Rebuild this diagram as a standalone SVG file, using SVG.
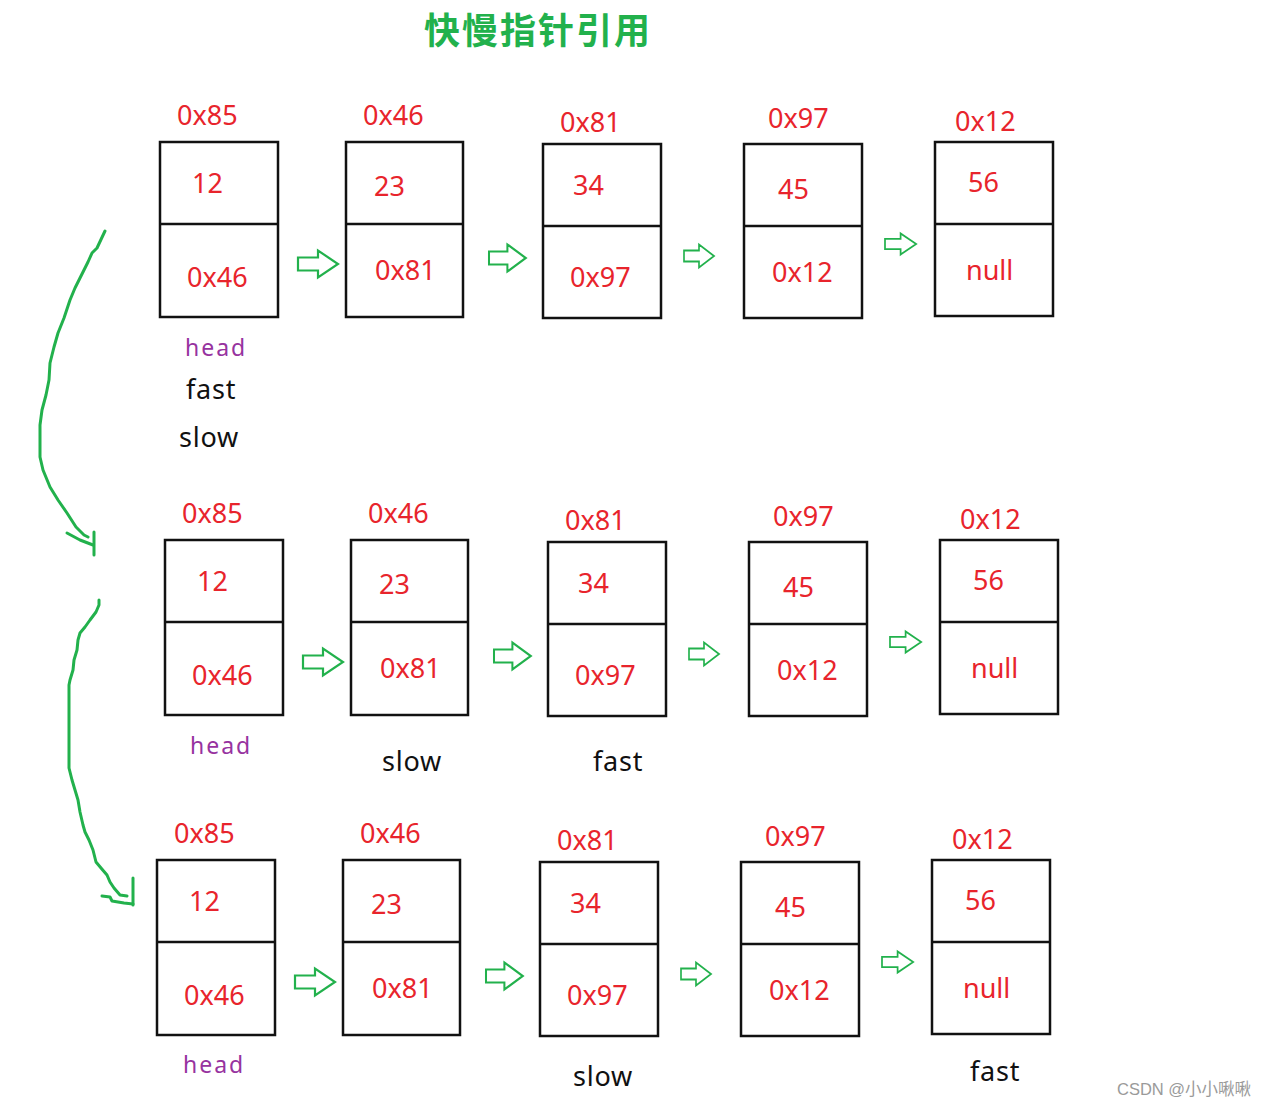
<svg xmlns="http://www.w3.org/2000/svg" xmlns:xlink="http://www.w3.org/1999/xlink" width="1269" height="1107" viewBox="0 0 1269 1107">
<style>
.box{fill:none;stroke:#111;stroke-width:2.5}
.red{font-family:"Noto Sans","Liberation Sans",sans-serif;font-size:27px;fill:#e8242c}
.head{font-family:"Noto Sans","Liberation Sans",sans-serif;font-size:23px;fill:#97339f;letter-spacing:2px}
.lbl{font-family:"Noto Sans","Liberation Sans",sans-serif;font-size:27px;fill:#111;letter-spacing:0.8px}
.arw{fill:#fff;stroke:#22b14c;stroke-width:2.2;vector-effect:non-scaling-stroke;stroke-linejoin:miter}
.curve{fill:none;stroke:#22b14c;stroke-width:3;stroke-linejoin:round;stroke-linecap:round}
</style>
<defs>
<path id="arrow" d="M0,-6.5 H20 V-13.5 L40,0 L20,13.5 V6.5 H0 Z"/>
<g id="row">
<g id="n1"><rect class="box" x="160" y="142" width="118" height="175"/><line class="box" x1="160" y1="224" x2="278" y2="224"/><text class="red" x="177" y="125">0x85</text><text class="red" x="192" y="193">12</text><text class="red" x="187" y="287">0x46</text></g>
<g id="n2"><rect class="box" x="346" y="142" width="117" height="175"/><line class="box" x1="346" y1="224" x2="463" y2="224"/><text class="red" x="363" y="125">0x46</text><text class="red" x="374" y="196">23</text><text class="red" x="375" y="280">0x81</text></g>
<g id="n3"><rect class="box" x="543" y="144" width="118" height="174"/><line class="box" x1="543" y1="226" x2="661" y2="226"/><text class="red" x="560" y="132">0x81</text><text class="red" x="573" y="195">34</text><text class="red" x="570" y="287">0x97</text></g>
<g id="n4"><rect class="box" x="744" y="144" width="118" height="174"/><line class="box" x1="744" y1="226" x2="862" y2="226"/><text class="red" x="768" y="128">0x97</text><text class="red" x="778" y="199">45</text><text class="red" x="772" y="282">0x12</text></g>
<g id="n5"><rect class="box" x="935" y="142" width="118" height="174"/><line class="box" x1="935" y1="224" x2="1053" y2="224"/><text class="red" x="955" y="131">0x12</text><text class="red" x="968" y="192">56</text><text class="red" x="966" y="280">null</text></g>
</g>
<g id="rowArrows">
<use href="#arrow" class="arw" transform="translate(298,264)"/>
<use href="#arrow" class="arw" transform="translate(489,258) scale(0.92,1)"/>
<use href="#arrow" class="arw" transform="translate(684,256) scale(0.75,0.85)"/>
<use href="#arrow" class="arw" transform="translate(885,244) scale(0.78,0.78)"/>
</g>
</defs>
<rect width="1269" height="1107" fill="#fff"/>
<g id="title"><text x="424" y="44" font-family="'Noto Sans CJK SC',sans-serif" font-weight="bold" font-size="36" letter-spacing="2" fill="#22b14c">快慢指针引用</text></g>

<g id="row1">
<use href="#row"/>
<g id="row1-labels"><text class="head" x="185" y="356">head</text><text class="lbl" x="186" y="399">fast</text><text class="lbl" x="179" y="447">slow</text></g>
</g>
<g id="row2" transform="translate(5,398)">
<use href="#row"/>
<g id="row2-labels"><text class="head" x="185" y="356">head</text><text class="lbl" x="377" y="373">slow</text><text class="lbl" x="588" y="373">fast</text></g>
</g>
<g id="row3" transform="translate(-3,718)">
<use href="#row"/>
<g id="row3-labels"><text class="head" x="186" y="355">head</text><text class="lbl" x="576" y="368">slow</text><text class="lbl" x="973" y="363">fast</text></g>
</g>

<g id="connectors">
<use href="#rowArrows"/>
<use href="#rowArrows" transform="translate(5,398)"/>
<use href="#rowArrows" transform="translate(-3,718)"/>
<polyline class="curve" points="105,231 97,248 92,253 88,262 80,278 75,288 70,300 64,318 58,333 54,347 50,363 49,380 46,395 42,410 40,425 40,457 43,470 50,487 58,500 67,513 76,527 84,535 88,537"/>
<polyline class="curve" points="67,533 80,540 93,545"/>
<line class="curve" x1="94" y1="532" x2="94" y2="555"/>
<polyline class="curve" points="99,600 99,605 96,612 90,620 85,627 80,633 78,640 77,650 74,660 73,670 70,680 69,685 69,768 72,780 75,790 78,800 80,812 83,825 85,832 89,840 93,850 96,862 101,868 107,875 110,882 114,888 120,895 127,896"/>
<polyline class="curve" points="102,896 110,897 112,901 124,903 133,904"/>
<line class="curve" x1="133" y1="878" x2="133" y2="905"/>
</g>
<g id="watermark"><text x="1117" y="1095" font-family="'Liberation Sans','Noto Sans CJK SC',sans-serif" font-size="16.5" fill="#9a9a9a">CSDN @小小啾啾</text></g>
</svg>
